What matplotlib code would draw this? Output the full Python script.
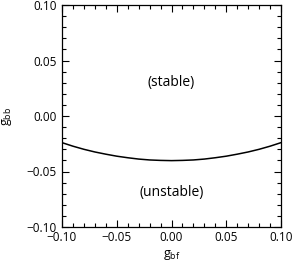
import matplotlib
matplotlib.use("Agg")
import matplotlib.pyplot as plt
from matplotlib.ticker import MultipleLocator

# boundary between stable and unstable regions
g_bf = [-0.10, -0.09, -0.08, -0.07, -0.06, -0.05, -0.04, -0.03, -0.02, -0.01, 0.00,
        0.01, 0.02, 0.03, 0.04, 0.05, 0.06, 0.07, 0.08, 0.09, 0.10]
g_bb = [-0.0240, -0.0272, -0.0300, -0.0324, -0.0344, -0.0362, -0.0376, -0.0388, -0.0396, -0.0400, -0.0402,
        -0.0400, -0.0396, -0.0388, -0.0376, -0.0362, -0.0344, -0.0324, -0.0300, -0.0272, -0.0240]

ticks = [-0.10, -0.05, 0.00, 0.05, 0.10]
tick_labels = ["\u22120.10", "\u22120.05", "0.00", "0.05", "0.10"]

plt.rcParams["font.family"] = ["Open Sans", "DejaVu Sans"]
plt.rcParams["mathtext.fontset"] = "custom"
plt.rcParams["mathtext.rm"] = "Open Sans"
plt.rcParams["mathtext.it"] = "Open Sans"

fig = plt.figure(figsize=(2.93, 2.65), dpi=100)
ax = fig.add_axes((62 / 293, 1 - 227 / 265, 219 / 293, 222 / 265))

ax.plot(g_bf, g_bb, color="black", lw=1.1)

ax.set_xlim(-0.1, 0.1)
ax.set_ylim(-0.1, 0.1)
ax.set_xticks(ticks)
ax.set_xticklabels(tick_labels)
ax.set_yticks(ticks)
ax.set_yticklabels(tick_labels)
ax.xaxis.set_minor_locator(MultipleLocator(0.01))
ax.yaxis.set_minor_locator(MultipleLocator(0.01))
ax.tick_params(which="both", direction="in", top=True, right=True,
               labelsize=8.5, width=0.8)
ax.tick_params(axis="x", which="major", pad=3)
ax.tick_params(axis="y", which="major", pad=4)
ax.tick_params(which="major", length=5)
ax.tick_params(which="minor", length=3)
for s in ax.spines.values():
    s.set_linewidth(0.9)

ax.set_xlabel(r"g$_{\mathrm{bf}}$", fontsize=9, labelpad=3)
ax.set_ylabel(r"g$_{\mathrm{bb}}$", fontsize=9, labelpad=9)

ax.text(0.0, 0.03, "(stable)", ha="center", va="center", fontsize=10)
ax.text(0.0, -0.069, "(unstable)", ha="center", va="center", fontsize=10)

fig.savefig("out.png", dpi=100)
